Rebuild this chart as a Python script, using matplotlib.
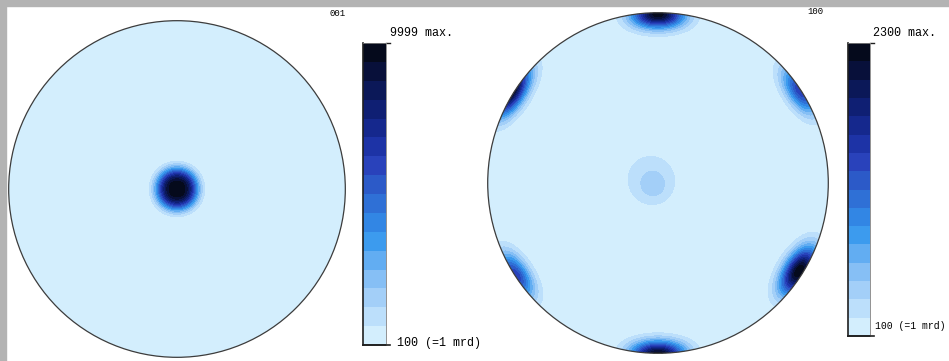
import numpy as np
import matplotlib
matplotlib.use("Agg")
import matplotlib.pyplot as plt
from matplotlib.colors import ListedColormap, BoundaryNorm
from matplotlib.patches import Circle, Rectangle

# ----------- Data -----------
# pole figure 001: one sharp component at the centre
left_label = "001"
left_max = 9999
left_az = [0.0]          # azimuth of each pole (deg)
left_pol = [0.0]         # polar angle of each pole (deg)
left_amp = [9899.0]      # height above the 100 mrd background
left_width = [7.6]       # angular width (deg)
left_shape = [3.0]       # profile exponent (2 = gaussian)

# pole figure 100: six-fold ring of poles on the rim plus a weak centre
right_label = "100"
right_max = 2300
right_az = [90.0, 328.0, 33.0, 150.0, 215.0]
right_pol = [89.0, 87.5, 90.0, 4.0, 2.5]
right_amp = [2150.0, 2200.0, 1350.0, 240.0, 170.0]
right_width = [6.0, 6.2, 6.0, 10.0, 4.5]
right_shape = [2.0, 2.0, 2.0, 2.0, 2.0]

base_level = 100
max_fmt = "{} max."
min_text = "100 (=1 mrd)"

band_colors = ["#d3eefd", "#bcdffb", "#a3cff8", "#86bff5", "#62adf2",
               "#3c9bee", "#3286e4", "#2f70d6", "#2c5ac8", "#2942bb",
               "#1d33a6", "#15288d", "#0f1f73", "#0b1858", "#08103a",
               "#050a1c"]

W, H = 949, 361


def pole_density(az, pol, amp, width, shape, base, n=500):
    # equal-area (Schmidt) net, upper hemisphere, antipodal symmetry
    g = np.linspace(-1.02, 1.02, n)
    X, Y = np.meshgrid(g, g)
    r = np.clip(np.hypot(X, Y), 0, np.sqrt(2))
    theta = 2 * np.arcsin(r / np.sqrt(2))
    phi = np.arctan2(Y, X)
    v = np.stack([np.sin(theta) * np.cos(phi),
                  np.sin(theta) * np.sin(phi),
                  np.cos(theta)])
    field = np.full(X.shape, float(base))
    for a, p, A, w, k in zip(az, pol, amp, width, shape):
        a, p = np.radians(a), np.radians(p)
        pole = np.array([np.sin(p) * np.cos(a), np.sin(p) * np.sin(a), np.cos(p)])
        c = np.abs(np.tensordot(pole, v, axes=1))
        ang = np.degrees(np.arccos(np.clip(c, -1, 1)))
        field += A * np.exp(-0.5 * (ang / w) ** k)
    return g, field


def px_axes(fig, x0, y0, w, h):
    return fig.add_axes([x0 / W, 1 - (y0 + h) / H, w / W, h / H])


def draw_pole_figure(fig, box, g, field, vmax):
    ax = px_axes(fig, *box)
    levels = np.linspace(base_level, vmax, len(band_colors) + 1)
    cmap = ListedColormap(band_colors)
    norm = BoundaryNorm(levels, cmap.N)
    field = np.clip(field, base_level, vmax)
    cs = ax.contourf(g, g, field, levels=levels, cmap=cmap, norm=norm,
                     antialiased=False)
    clip = Circle((0, 0), 1, transform=ax.transData)
    cs.set_clip_path(clip)
    ax.add_patch(Circle((0, 0), 1, fill=False, ec="#3c3c3c", lw=0.9))
    ax.set_xlim(-1.01, 1.01)
    ax.set_ylim(-1.01, 1.01)
    ax.set_aspect("equal")
    ax.axis("off")
    return levels


def draw_colorbar(fig, box, levels):
    x0, y0, w, h = box
    cax = px_axes(fig, x0, y0, w, h)
    cmap = ListedColormap(band_colors)
    norm = BoundaryNorm(levels, cmap.N)
    mids = 0.5 * (levels[:-1] + levels[1:])
    cax.pcolormesh([0, 1], levels, mids[:, None], cmap=cmap, norm=norm)
    cax.set_xlim(0, 1)
    cax.set_ylim(levels[0], levels[-1])
    cax.set_xticks([])
    cax.set_yticks([])
    for side in ["left", "bottom"]:
        cax.spines[side].set_color("#202020")
        cax.spines[side].set_linewidth(1.2)
    for side in ["top", "right"]:
        cax.spines[side].set_color("#808080")
        cax.spines[side].set_linewidth(0.6)
    # short marks at the top and bottom of the scale
    ext = 1 + 4.0 / w
    cax.plot([1, ext], [levels[-1], levels[-1]], color="#202020", lw=1,
             clip_on=False)
    cax.plot([0, ext], [levels[0], levels[0]], color="#202020", lw=1.2,
             clip_on=False)


def fig_text(fig, x, y, s, **kw):
    fig.text(x / W, 1 - y / H, s, va="center", ha="left",
             family="Liberation Mono", **kw)


fig = plt.figure(figsize=(W / 100, H / 100), dpi=100)
fig.patch.set_facecolor("white")

# grey frame along the top and left edges
fig.patches.append(Rectangle((0, 1 - 6 / H), 1, 6 / H, transform=fig.transFigure,
                             color="#b3b3b3", zorder=0))
fig.patches.append(Rectangle((0, 0), 6 / W, 1, transform=fig.transFigure,
                             color="#b3b3b3", zorder=0))

# ----------- Left pole figure -----------
g, fl = pole_density(left_az, left_pol, left_amp, left_width, left_shape, base_level)
lv = draw_pole_figure(fig, (7, 19, 340, 340), g, fl, left_max)
draw_colorbar(fig, (363, 43, 23, 302), lv)
fig_text(fig, 329, 14, left_label, fontsize=6.5)
fig_text(fig, 390, 33, max_fmt.format(left_max), fontsize=8.5)
fig_text(fig, 397, 343, min_text, fontsize=8.5)

# ----------- Right pole figure -----------
g, fr = pole_density(right_az, right_pol, right_amp, right_width, right_shape, base_level)
rv = draw_pole_figure(fig, (486, 11, 344, 344), g, fr, right_max)
draw_colorbar(fig, (848, 43, 22, 293), rv)
fig_text(fig, 807, 12, right_label, fontsize=6.5)
fig_text(fig, 873, 33, max_fmt.format(right_max), fontsize=8.5)
fig_text(fig, 875, 326, min_text, fontsize=7)

fig.savefig("out.png", dpi=100)
